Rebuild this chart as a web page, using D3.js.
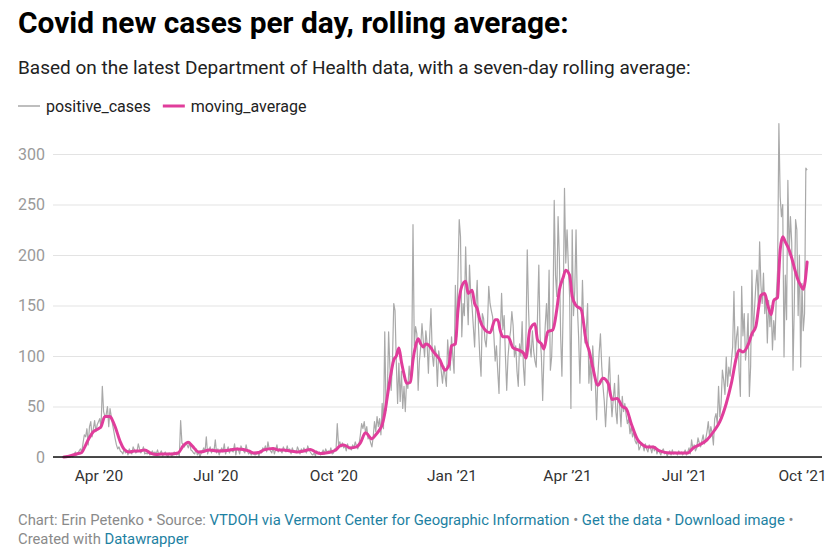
<!DOCTYPE html>
<html><head><meta charset="utf-8">
<script src="https://cdn.jsdelivr.net/npm/d3@7/dist/d3.min.js"></script>
<style>
body{margin:0;background:#fff;}
svg{display:block;font-family:Roboto,"Noto Sans",sans-serif;}
</style></head><body>
<svg id="chart" width="840" height="555"></svg>
<script>
// ---------------- DATA ----------------
const titleText = "Covid new cases per day, rolling average:";
const subtitleText = "Based on the latest Department of Health data, with a seven-day rolling average:";
const seriesNames = ["positive_cases", "moving_average"];

const yTicks = [0, 50, 100, 150, 200, 250, 300];
const xTickDates = ["2020-04-01", "2020-07-01", "2020-10-01", "2021-01-01", "2021-04-01", "2021-07-01", "2021-10-01"];
const xTickLabels = ["Apr \u201920", "Jul \u201920", "Oct \u201920", "Jan \u201921", "Apr \u201921", "Jul \u201921", "Oct \u201921"];
const xDomain = ["2020-02-25 14:00", "2021-10-16 14:00"];

// positive_cases: daily values, one row per month, each row starting on the given date
const caseRowStarts = ["2020-03-05","2020-04-01","2020-05-01","2020-06-01","2020-07-01","2020-08-01","2020-09-01","2020-10-01","2020-11-01","2020-12-01",
  "2021-01-01","2021-02-01","2021-03-01","2021-04-01","2021-05-01","2021-06-01","2021-07-01","2021-08-01","2021-09-01","2021-10-01"];
const caseRows = [
  [0,0,1,0,1,0, 2,0,3,5,2,4,6, 8,5,14,22,20,28,12, 30,35,20,28,36,25,32],
  [35,38,29,70,45,40,42, 50,30,48,40,32,25,18, 12,8,10,6,5,3,8, 4,6,2,8,5,3,10,7,4],
  [5,13,8,4,6,10,3, 4,3,5,2,4,6,3, 5,3,7,2,4,6,1, 3,5,2,0,4,3,1, 2,5,3],
  [2,4,1,36,14,12,10, 14,12,9,15,7,6,4, 3,8,2,5,0,4,6, 9,5,20,3,7,10,4,8,6],
  [17,4,8,2,6,9,5, 13,3,7,10,4,8,6, 5,13,2,9,7,3,11, 8,6,4,12,6,3,5, 2,4,3],
  [2,3,5,1,6,4,9, 7,11,5,15,8,6,4, 9,3,7,12,5,8,6, 4,10,7,5,11,6,8, 3,9,5],
  [6,4,10,7,3,8,5, 9,6,4,11,7,5,3, 2,4,1,6,3,5,2, 4,7,3,8,5,6,4, 9,3],
  [4,8,6,33,12,15,10, 14,9,11,6,13,8,10, 7,12,9,15,11,8,13, 22,33,28,35,24,30,18, 20,14,10],
  [20,35,25,40,30,38,22, 53,28,124,46,60,124,89, 66,95,152,145,93,53,93, 55,85,48,70,45,76,68, 90,75],
  [95,230,110,129,122,66,95, 109,132,115,99,125,112,83, 120,147,102,90,110,102,70, 105,96,85,73,90,80,70, 116,95,86],
  [119,100,83,170,119,180,235, 218,119,152,140,208,162,131, 190,160,149,129,109,150,175, 129,100,80,142,137,116,109, 130,169,152],
  [145,139,120,95,110,85,63, 120,162,126,140,100,66,99, 115,125,144,130,99,110,85, 70,112,100,134,90,71,120],
  [205,146,110,99,125,105,95, 89,140,190,119,100,56,99, 130,152,120,185,86,99,140, 254,180,159,238,198,120,80, 150,266,192],
  [225,190,159,48,225,140,165, 225,150,119,73,120,175,130, 113,125,152,73,95,66,110, 86,75,37,80,103,122,90, 70,55],
  [30,56,75,99,62,40,58, 73,45,33,81,50,30,60, 45,53,42,33,38,23,30, 20,25,16,13,18,7,10, 14,12,6],
  [13,8,5,12,9,4,11, 6,10,3,7,5,2,6, 8,3,5,1,4,6,2, 7,3,5,4,2,6,3, 5,2],
  [4,7,2,5,9,3,17, 8,12,6,9,19,14,10, 16,22,13,18,25,35,20, 30,24,12,38,43,33,70, 40,53,86],
  [76,62,99,70,89,80,95, 109,164,100,119,129,85,60, 169,120,142,96,110,142,60, 90,185,120,146,169,185,150, 213,170,152],
  [182,142,160,113,155,129,150, 106,135,116,160,185,330,258, 238,250,99,180,136,274,200, 238,212,86,150,235,225,140, 200,89],
  [172,125,142,286,284]
];

// moving_average: values at these dates
const maDates = ["2020-03-05","2020-03-08","2020-03-11","2020-03-15","2020-03-19","2020-03-21","2020-03-24","2020-03-28","2020-04-01","2020-04-03",
  "2020-04-06","2020-04-10","2020-04-12","2020-04-14","2020-04-18","2020-04-21","2020-04-25","2020-04-29","2020-05-03","2020-05-07",
  "2020-05-12","2020-05-16","2020-05-20","2020-05-27","2020-06-02","2020-06-06","2020-06-10","2020-06-13","2020-06-18","2020-06-22",
  "2020-06-26","2020-07-03","2020-07-10","2020-07-18","2020-07-23","2020-07-27","2020-07-31","2020-08-04","2020-08-08","2020-08-15",
  "2020-08-19","2020-08-23","2020-08-28","2020-09-03","2020-09-08","2020-09-13","2020-09-17","2020-09-21","2020-09-25","2020-09-29",
  "2020-10-03","2020-10-06","2020-10-09","2020-10-14","2020-10-19","2020-10-22","2020-10-26","2020-10-31","2020-11-03","2020-11-06",
  "2020-11-08","2020-11-10","2020-11-12","2020-11-14","2020-11-17","2020-11-19","2020-11-21","2020-11-23","2020-11-25","2020-11-27",
  "2020-11-30","2020-12-02","2020-12-04","2020-12-06","2020-12-08","2020-12-10","2020-12-12","2020-12-14","2020-12-16","2020-12-18",
  "2020-12-20","2020-12-23","2020-12-25","2020-12-27","2020-12-30","2021-01-01","2021-01-04","2021-01-06","2021-01-09","2021-01-12",
  "2021-01-14","2021-01-17","2021-01-19","2021-01-21","2021-01-23","2021-01-27","2021-01-31","2021-02-04","2021-02-06","2021-02-08",
  "2021-02-10","2021-02-14","2021-02-18","2021-02-22","2021-02-26","2021-02-28","2021-03-03","2021-03-07","2021-03-09","2021-03-12",
  "2021-03-14","2021-03-17","2021-03-21","2021-03-24","2021-03-26","2021-03-29","2021-03-31","2021-04-03","2021-04-05","2021-04-08",
  "2021-04-12","2021-04-16","2021-04-18","2021-04-21","2021-04-25","2021-04-29","2021-05-03","2021-05-06","2021-05-10","2021-05-14",
  "2021-05-17","2021-05-21","2021-05-26","2021-05-30","2021-06-02","2021-06-07","2021-06-12","2021-06-20","2021-06-28","2021-07-04",
  "2021-07-08","2021-07-13","2021-07-19","2021-07-24","2021-07-29","2021-08-03","2021-08-07","2021-08-11","2021-08-13","2021-08-16",
  "2021-08-20","2021-08-23","2021-08-26","2021-08-30","2021-09-02","2021-09-04","2021-09-07","2021-09-09","2021-09-12","2021-09-13",
  "2021-09-14","2021-09-16","2021-09-18","2021-09-21","2021-09-23","2021-09-26","2021-09-28","2021-09-30","2021-10-02","2021-10-05"];
const maValues = [0,0.5,1.5,3,4.5,9,17,25,28,30,
  40,40,36,30,15,7.6,5,6,6,7,
  3.6,2.5,3,3,4,11,14.5,11,5,5.5,
  7,6,6.5,8,7.5,6,4,4.5,7,8.5,
  7,7,6,5,6,7.5,5,3.5,4,5,
  7,11,12,9,10,14,24,18,22,27,
  32,43,60,76,96,100,108,94,82,73,
  74,96,110,117,112,109,112,111,108,104,
  101,96,90,86,91,110,112,145,169,174,
  162,165,152,147,136,126,123,136,136,125,
  119,119,108,106,103,98,126,132,116,112,
  107,124,126,146,165,178,185,180,159,150,
  146,114,106,89,71,78,73,57,58,50,
  48,33,17,12,10,10,6,4,4,4,
  8.6,12,17,25,35,53,73,99,106,104,
  111,122,129,160,162,152,141,155,158,183,
  205,218,213,205,197,183,175,170,166,193];

// ---------------- CHART ----------------
const svg = d3.select("#chart");
const plot = {left: 53, right: 822, top: 154, bottom: 457};
const grayColor = "#a9a9a9", pinkColor = "#e03d9b";
const fontStack = "Roboto, 'Noto Sans', sans-serif";

const parseDay = d3.timeParse("%Y-%m-%d");
const parseHour = d3.timeParse("%Y-%m-%d %H:%M");

const cases = [];
caseRowStarts.forEach((s, i) => {
  const d0 = parseDay(s);
  caseRows[i].forEach((v, j) => cases.push({date: d3.timeDay.offset(d0, j), value: v}));
});
const ma = maDates.map((s, i) => ({date: parseDay(s), value: maValues[i]}));

const x = d3.scaleTime().domain(xDomain.map(parseHour)).range([plot.left, plot.right]);
const y = d3.scaleLinear().domain([0, 300]).range([plot.bottom, plot.top]);

// Title & subtitle
svg.append("text").attr("x", 18).attr("y", 33)
  .attr("font-size", 29.9).attr("font-weight", 700).attr("fill", "#000")
  .text(titleText);
svg.append("text").attr("x", 18).attr("y", 74)
  .attr("font-size", 19).attr("fill", "#222")
  .text(subtitleText);

// Legend
const legend = svg.append("g").attr("transform", "translate(18,106)");
let lx = 0;
seriesNames.forEach((name, i) => {
  const g = legend.append("g").attr("transform", `translate(${lx},0)`);
  g.append("line").attr("x1", 0).attr("x2", 22).attr("y1", 0).attr("y2", 0)
    .attr("stroke", i === 0 ? grayColor : pinkColor)
    .attr("stroke-width", i === 0 ? 1.5 : 3);
  const t = g.append("text").attr("x", 28).attr("y", 5.8)
    .attr("font-size", 16).attr("fill", "#222").text(name);
  lx += 28 + t.node().getComputedTextLength() + 12;
});

// Y grid + labels
const yAxis = svg.append("g").attr("transform", `translate(${plot.left},0)`)
  .call(d3.axisLeft(y).tickValues(yTicks).tickSize(-(plot.right - plot.left)).tickPadding(8));
yAxis.select(".domain").remove();
yAxis.selectAll(".tick line").attr("stroke", "#e3e3e3").attr("stroke-width", 1);
yAxis.selectAll(".tick text").attr("fill", "#9a9a9a").attr("font-size", 16)
  .attr("font-family", fontStack);

// X axis labels
const xAxis = svg.append("g").attr("transform", `translate(0,${plot.bottom})`)
  .call(d3.axisBottom(x).tickValues(xTickDates.map(parseDay))
    .tickFormat((d, i) => xTickLabels[i]).tickSize(0).tickPadding(13));
xAxis.select(".domain").remove();
xAxis.selectAll(".tick text").attr("fill", "#333").attr("font-size", 15.5)
  .attr("font-family", fontStack);

// Lines
const line = d3.line().x(d => x(d.date)).y(d => y(d.value));
svg.append("path").datum(cases).attr("d", line)
  .attr("fill", "none").attr("stroke", grayColor).attr("stroke-width", 1.2)
  .attr("stroke-linejoin", "round");
svg.append("path").datum(ma).attr("d", line.curve(d3.curveMonotoneX))
  .attr("fill", "none").attr("stroke", pinkColor).attr("stroke-width", 3)
  .attr("stroke-linejoin", "round").attr("stroke-linecap", "round");

// Baseline
svg.append("line").attr("x1", plot.left).attr("x2", plot.right)
  .attr("y1", y(0)).attr("y2", y(0)).attr("stroke", "#111").attr("stroke-width", 1.5);

// Footer
const footGray = "#8a8a8a", footBlue = "#1d81a2";
const footerLines = [
  [["Chart: Erin Petenko \u2022 Source: ", footGray], ["VTDOH via Vermont Center for Geographic Information", footBlue],
   [" \u2022 ", footGray], ["Get the data", footBlue], [" \u2022 ", footGray], ["Download image", footBlue], [" \u2022", footGray]],
  [["Created with ", footGray], ["Datawrapper", footBlue]]
];
footerLines.forEach((parts, i) => {
  const t = svg.append("text").attr("x", 18).attr("y", 525 + i * 19).attr("font-size", 14.8);
  parts.forEach(p => t.append("tspan").attr("fill", p[1]).text(p[0]));
});
</script>
</body></html>
